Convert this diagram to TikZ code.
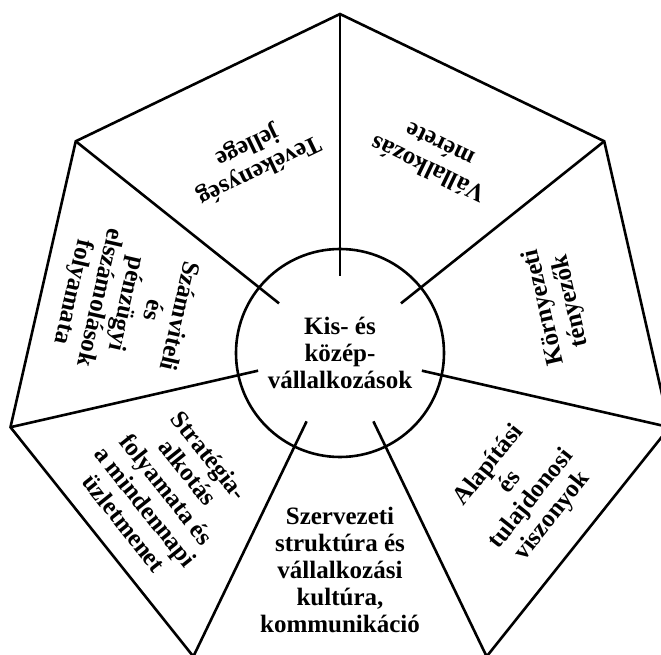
\documentclass[tikz,border=0pt]{standalone}
\usepackage{fontspec}
\setmainfont{Liberation Serif}
\begin{document}
\begin{tikzpicture}[x=1pt,y=1pt,
  edge/.style={line width=2.6pt, line join=miter},
  spoke/.style={line width=2.6pt},
  lbl/.style={font=\bfseries\fontsize{25}{27.2}\selectfont, align=center, inner sep=0pt}]
\clip (-340,-303) rectangle (321,352);
% heptagon vertices
\coordinate (v1) at (90:338);
\coordinate (v2) at (141.4286:338);
\coordinate (v3) at (192.8571:338);
\coordinate (v4) at (244.2857:338);
\coordinate (v5) at (295.7143:338);
\coordinate (v6) at (347.1429:338);
\coordinate (v7) at (38.5714:338);
% inner ends of spokes
\coordinate (e1) at (90:76);
\coordinate (e2) at (141.4286:78);
\coordinate (e3) at (192.8571:84);
\coordinate (e4) at (244.2857:77);
\coordinate (e5) at (295.7143:77);
\coordinate (e6) at (347.1429:84);
\coordinate (e7) at (38.5714:78);
\draw[edge] (v1) -- (v2) -- (v3) -- (v4) -- (v5) -- (v6) -- (v7) -- cycle;
\foreach \i in {1,...,7} \draw[spoke] (v\i) -- (e\i);
\node[circle, draw, line width=2.6pt, minimum size=208pt, lbl] (hub) at (0,-1) {Kis- és\\közép-\\vállalkozások};
% segment labels
\node[lbl, rotate=154.29] (t1) at (64.2:216) {Vállalkozás\\mérete};
\node[lbl, rotate=205.71] (t2) at (114:213) {Tevékenység\\jellege};
\node[lbl, rotate=257.14] (t3) at (167.3:220) {Számviteli\\és\\pénzügyi\\elszámolások\\folyamata};
\node[lbl, rotate=-51.43] (t4) at (218.4:221) {Stratégia-\\alkotás\\folyamata és\\a mindennapi\\üzletmenet};
\node[lbl] (t5) at (270:218) {Szervezeti\\struktúra és\\vállalkozási\\kultúra,\\kommunikáció};
\node[lbl, rotate=51.43] (t6) at (322.5:228) {Alapítási\\és\\tulajdonosi\\viszonyok};
\node[lbl, rotate=102.86] (t7) at (12.4:223) {Környezeti\\tényezők};
\end{tikzpicture}
\end{document}
